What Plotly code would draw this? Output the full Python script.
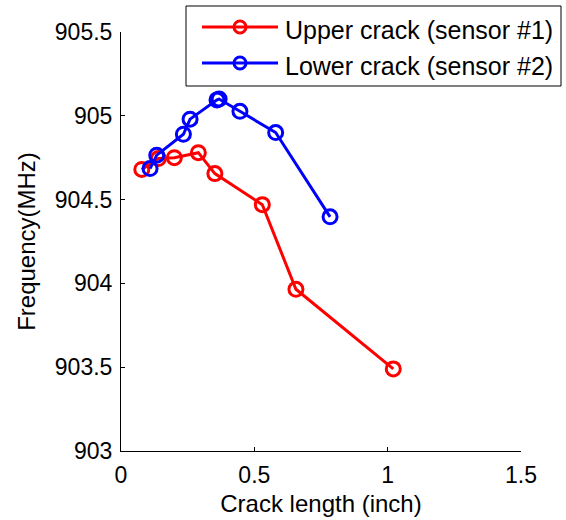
import plotly.graph_objects as go

# Data
upper_x = [0.078, 0.14, 0.20, 0.29, 0.352, 0.53, 0.656, 1.021]
upper_y = [904.68, 904.745, 904.75, 904.78, 904.655, 904.47, 903.965, 903.49]
lower_x = [0.109, 0.134, 0.234, 0.259, 0.360, 0.368, 0.446, 0.58, 0.784]
lower_y = [904.685, 904.765, 904.89, 904.98, 905.095, 905.10, 905.027, 904.90, 904.397]

x_ticks = [0, 0.5, 1, 1.5]
x_ticktext = ["0", "0.5", "1", "1.5"]
y_ticks = [903, 903.5, 904, 904.5, 905, 905.5]
y_ticktext = ["903", "903.5", "904", "904.5", "905", "905.5"]

series_names = ["Upper crack (sensor #1)", "Lower crack (sensor #2)"]
series_colors = ["#ff0000", "#0000ff"]

FONT = "Arial, Liberation Sans, sans-serif"
FS_TICK = 23
FS_TITLE = 24
FS_LEG = 25

W, H = 566, 520
ML, MR, MT, MB = 121, 45, 32, 69
PW, PH = W - ML - MR, H - MT - MB


def px2paper(px, py):
    return (px - ML) / PW, (H - MB - py) / PH


fig = go.Figure()
for xs, ys, name, col in [(upper_x, upper_y, series_names[0], series_colors[0]),
                          (lower_x, lower_y, series_names[1], series_colors[1])]:
    fig.add_trace(go.Scatter(
        x=xs, y=ys, mode="lines+markers", name=name, showlegend=False,
        line=dict(color=col, width=3),
        marker=dict(symbol="circle-open", size=14, color=col, line=dict(width=3)),
    ))

# Manual legend (MATLAB style) in paper coordinates
shapes = []
annotations = []
x0, y0 = px2paper(186, 86)
x1, y1 = px2paper(561, 6)
shapes.append(dict(type="rect", xref="paper", yref="paper", x0=x0, y0=y0, x1=x1, y1=y1,
                   line=dict(color="black", width=1), fillcolor="white", layer="above"))
for i, (name, col) in enumerate(zip(series_names, series_colors)):
    cy = 27 + i * 36
    lx0, ly = px2paper(202, cy)
    lx1, _ = px2paper(278, cy)
    shapes.append(dict(type="line", xref="paper", yref="paper", x0=lx0, y0=ly, x1=lx1, y1=ly,
                       line=dict(color=col, width=3), layer="above"))
    cx0, cy0 = px2paper(240 - 6, cy + 6)
    cx1, cy1 = px2paper(240 + 6, cy - 6)
    shapes.append(dict(type="circle", xref="paper", yref="paper", x0=cx0, y0=cy0, x1=cx1, y1=cy1,
                       line=dict(color=col, width=3), fillcolor="rgba(0,0,0,0)", layer="above"))
    tx, ty = px2paper(283, cy + 3)
    annotations.append(dict(text=name, xref="paper", yref="paper", x=tx, y=ty,
                            xanchor="left", yanchor="middle", showarrow=False,
                            font=dict(family=FONT, size=FS_LEG, color="black")))

axis_common = dict(
    showline=True, linecolor="black", linewidth=1, showgrid=False, zeroline=False,
    ticks="inside", ticklen=4, tickcolor="black", mirror=False, automargin=False,
    tickfont=dict(family=FONT, size=FS_TICK, color="black"),
)

fig.update_layout(
    width=W, height=H,
    margin=dict(l=ML, r=MR, t=MT, b=MB, autoexpand=False),
    paper_bgcolor="white", plot_bgcolor="white",
    font=dict(family=FONT, size=FS_TICK, color="black"),
    xaxis=dict(range=[0, 1.5], tickvals=x_ticks, ticktext=x_ticktext, ticklabelstandoff=3,
               title=dict(text="Crack length (inch)", font=dict(family=FONT, size=FS_TITLE), standoff=8),
               **axis_common),
    yaxis=dict(range=[903, 905.5], tickvals=y_ticks, ticktext=y_ticktext, ticklabelstandoff=3,
               title=dict(text="Frequency(MHz)", font=dict(family=FONT, size=FS_TITLE), standoff=12),
               **axis_common),
    shapes=shapes, annotations=annotations,
    showlegend=False,
)

fig.write_html("out.html", config={"displayModeBar": False, "staticPlot": True})

# Remove the browser's default body margin so the figure fills the window exactly
with open("out.html", "r", encoding="utf-8") as f:
    html = f.read()
html = html.replace("<body>", '<body style="margin:0;padding:0;overflow:hidden">', 1)
with open("out.html", "w", encoding="utf-8") as f:
    f.write(html)
